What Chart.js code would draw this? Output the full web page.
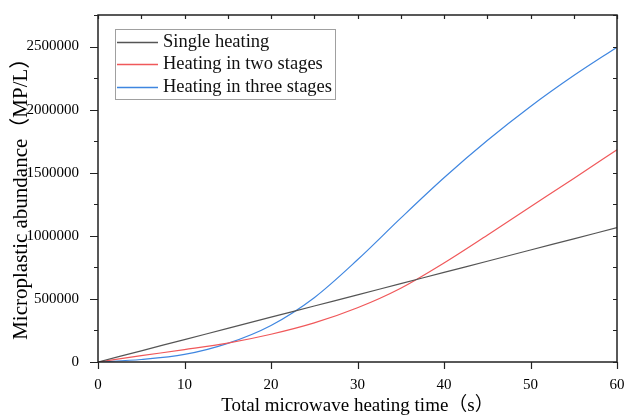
<!DOCTYPE html>
<html>
<head>
<meta charset="utf-8">
<script src="https://cdn.jsdelivr.net/npm/chart.js@4"></script>
<style>
  html, body { margin: 0; padding: 0; background: #fff; overflow: hidden; }
  canvas { display: block; }
</style>
</head>
<body>
<canvas id="c" width="627" height="417"></canvas>
<script>
// ---- data ----
const timeS = [0, 5, 10, 15, 20, 25, 30, 35, 40, 45, 50, 55, 60];
const singleHeating = [0, 88750, 177500, 266250, 355000, 443750, 532500, 621250, 710000, 798750, 887500, 976250, 1065000];
const twoStages = [0, 50000, 98000, 150000, 220000, 310000, 430000, 585000, 785000, 1005000, 1230000, 1455000, 1682000];
const threeStages = [0, 20000, 60000, 148000, 290000, 510000, 810000, 1140000, 1460000, 1755000, 2025000, 2270000, 2495000];
const seriesLabels = ["Single heating", "Heating in two stages", "Heating in three stages"];
const seriesColors = ["#555555", "#f0585a", "#3f86e0"];
const xTickValues = [0, 10, 20, 30, 40, 50, 60];
const yTickValues = [0, 500000, 1000000, 1500000, 2000000, 2500000];
const yMinorStep = 250000;

const serif = "'Liberation Serif', 'Times New Roman', 'Noto Sans CJK SC', serif";

function pts(ys) { return timeS.map((t, i) => ({ x: t, y: ys[i] })); }

const frameAndLegend = {
  id: 'frameAndLegend',
  afterDraw(chart) {
    const ctx = chart.ctx;
    const xs = chart.scales.x, ys = chart.scales.y;
    const a = chart.chartArea;
    ctx.save();
    ctx.strokeStyle = '#222';
    ctx.lineWidth = 1.5;
    ctx.strokeRect(a.left, a.top, a.right - a.left, a.bottom - a.top);
    ctx.lineWidth = 1.2;
    ctx.beginPath();
    for (let v = 0; v <= ys.max + 1; v += yMinorStep) {
      const y = Math.round(ys.getPixelForValue(v)) + 0.5;
      const major = yTickValues.includes(v);
      ctx.moveTo(a.left, y); ctx.lineTo(a.left - (major ? 8 : 4), y);
      ctx.moveTo(a.right, y); ctx.lineTo(a.right - 4, y);
    }
    for (let t = 0; t <= 60; t += 5) {
      const x = Math.round(xs.getPixelForValue(t)) + 0.5;
      if (xTickValues.includes(t)) { ctx.moveTo(x, a.bottom); ctx.lineTo(x, a.bottom + 7); }
      ctx.moveTo(x, a.top); ctx.lineTo(x, a.top + 4);
    }
    ctx.stroke();

    const bx = 115.5, by = 29.5, bw = 220, bh = 70;
    ctx.strokeStyle = '#a0a0a0';
    ctx.lineWidth = 1;
    ctx.strokeRect(bx, by, bw, bh);
    ctx.font = '18.5px ' + serif;
    ctx.textBaseline = 'middle';
    ctx.textAlign = 'left';
    const rowY = [42.5, 64.5, 87.5];
    seriesLabels.forEach((label, i) => {
      const yy = rowY[i];
      ctx.beginPath();
      ctx.strokeStyle = seriesColors[i];
      ctx.lineWidth = 1.3;
      ctx.moveTo(117, yy); ctx.lineTo(158, yy);
      ctx.stroke();
      ctx.fillStyle = '#111';
      ctx.fillText(label, 163, yy);
    });
    ctx.restore();
  }
};

new Chart(document.getElementById('c'), {
  type: 'line',
  data: {
    datasets: [singleHeating, twoStages, threeStages].map((d, i) => ({
      label: seriesLabels[i],
      data: pts(d),
      borderColor: seriesColors[i],
      borderWidth: 1.2,
      pointRadius: 0,
      fill: false,
      cubicInterpolationMode: 'monotone'
    }))
  },
  options: {
    responsive: false,
    animation: false,
    devicePixelRatio: 1,
    layout: { padding: { left: 0, top: 15, right: 10, bottom: 0 } },
    plugins: { legend: { display: false }, tooltip: { enabled: false } },
    scales: {
      x: {
        type: 'linear', min: 0, max: 60,
        afterBuildTicks: s => { s.ticks = xTickValues.map(v => ({ value: v })); },
        ticks: { color: '#000', font: { family: serif, size: 15 }, padding: 6, maxRotation: 0, autoSkip: false },
        grid: { display: false }, border: { display: false },
        title: { display: true, text: 'Total microwave heating time（s）', color: '#000',
                 font: { family: serif, size: 19 }, padding: 0 },
        afterFit: s => { s.height = 55; s.paddingLeft = 0; s.paddingRight = 0; }
      },
      y: {
        type: 'linear', min: 0, max: 2750000,
        afterBuildTicks: s => { s.ticks = yTickValues.map(v => ({ value: v })); },
        ticks: { color: '#000', font: { family: serif, size: 15 }, padding: 11, autoSkip: false,
                 callback: v => String(v) },
        grid: { display: false }, border: { display: false },
        title: { display: true, text: 'Microplastic abundance（MP/L）  ', color: '#000',
                 font: { family: serif, size: 21 }, padding: { top: 9, bottom: 0 } },
        afterFit: s => { s.width = 98; s.paddingTop = 0; s.paddingBottom = 0; }
      }
    }
  },
  plugins: [frameAndLegend]
});
</script>
</body>
</html>
